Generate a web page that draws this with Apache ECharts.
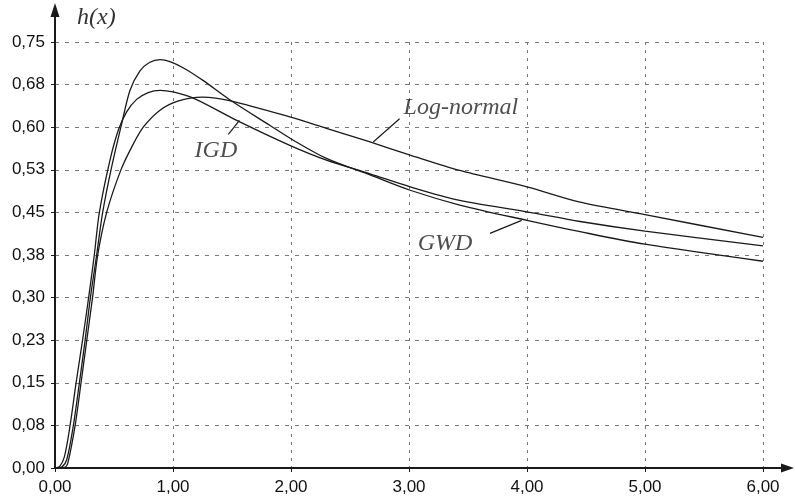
<!DOCTYPE html>
<html>
<head>
<meta charset="utf-8">
<script src="https://cdn.jsdelivr.net/npm/echarts@6/dist/echarts.min.js"></script>
<style>
html, body { margin: 0; padding: 0; background: #fff; }
#chart { width: 795px; height: 496px; }
</style>
</head>
<body>
<div id="chart"></div>
<script>
// tick labels (comma decimals, as printed)
const xTickLabels = ['0,00', '1,00', '2,00', '3,00', '4,00', '5,00', '6,00'];
const yTickLabels = ['0,00', '0,08', '0,15', '0,23', '0,30', '0,38', '0,45', '0,53', '0,60', '0,68', '0,75'];

// hazard curves, [x, h(x)]
const gwd = [
    [0, 0], [0.06, 0.002], [0.1, 0.015], [0.155, 0.074], [0.206, 0.149], [0.254, 0.223],
    [0.3, 0.3], [0.353, 0.375], [0.404, 0.45], [0.48, 0.53], [0.565, 0.606], [0.636, 0.665],
    [0.72, 0.699], [0.8, 0.714], [0.89, 0.719], [0.98, 0.715], [1.1, 0.703], [1.257, 0.682],
    [1.497, 0.646], [1.822, 0.603], [2.02, 0.577], [2.3, 0.545], [2.67, 0.516], [3.01, 0.489],
    [3.43, 0.463], [4.0, 0.436], [4.45, 0.416], [5.0, 0.394], [6.0, 0.364]
];
const igd = [
    [0, 0], [0.04, 0.003], [0.08, 0.02], [0.127, 0.074], [0.178, 0.149], [0.232, 0.223],
    [0.285, 0.3], [0.333, 0.375], [0.376, 0.45], [0.466, 0.542], [0.537, 0.595], [0.607, 0.627],
    [0.692, 0.649], [0.79, 0.661], [0.89, 0.665], [1.0, 0.662], [1.186, 0.65], [1.54, 0.612],
    [1.99, 0.568], [2.3, 0.542], [2.67, 0.518], [3.01, 0.495], [3.43, 0.471], [4.0, 0.451],
    [4.45, 0.434], [5.0, 0.417], [6.0, 0.391]
];
const logNormal = [
    [0, 0], [0.08, 0.001], [0.11, 0.01], [0.17, 0.074], [0.22, 0.149], [0.268, 0.223],
    [0.318, 0.3], [0.362, 0.375], [0.438, 0.45], [0.557, 0.524], [0.65, 0.565], [0.748, 0.6],
    [0.89, 0.63], [1.04, 0.646], [1.25, 0.653], [1.497, 0.646], [1.99, 0.618],
    [2.3, 0.598], [2.67, 0.574], [3.01, 0.551], [3.43, 0.524], [4.0, 0.495], [4.45, 0.468],
    [5.0, 0.446], [6.0, 0.406]
];

// callout texts and their leader lines, in data units
const calloutNames = ['IGD', 'Log-normal', 'GWD'];
const calloutAt = [[1.364, 0.559], [3.44, 0.635], [3.305, 0.395]];
const leaders = [
    [[1.469, 0.5875], [1.563, 0.612]],
    [[2.697, 0.574], [2.92, 0.615]],
    [[3.686, 0.413], [3.955, 0.436]]
];

const ink = '#1a1a1a';
const grid = { left: 55, right: 32, top: 42, bottom: 28 };
const chart = echarts.init(document.getElementById('chart'));

const curve = (name, data) => ({
    name: name,
    type: 'line',
    data: data,
    smooth: 0.3,
    showSymbol: false,
    lineStyle: { color: ink, width: 1.3 },
    z: 5
});

const W = 795, H = 496;
const x0 = grid.left, y0 = H - grid.bottom;

chart.setOption({
    animation: false,
    backgroundColor: '#fff',
    grid: grid,
    xAxis: [
        {
            type: 'value', min: 0, max: 6, interval: 1,
            axisLine: { show: false },
            axisTick: { show: true, length: 4, lineStyle: { color: ink } },
            axisLabel: {
                margin: 11, color: '#111', fontFamily: 'Liberation Sans', fontSize: 17,
                formatter: v => xTickLabels[Math.round(v)]
            },
            splitLine: { show: true, lineStyle: { color: '#777', type: [3, 5], width: 1 } }
        },
        {
            type: 'value', min: 0, max: 6, position: 'top',
            axisLine: { show: true, lineStyle: { color: ink, width: 1.5 } },
            axisTick: { show: false }, axisLabel: { show: false }, splitLine: { show: false }
        }
    ],
    yAxis: [
        {
            type: 'value', min: 0, max: 0.75, interval: 0.075,
            name: 'h(x)',
            nameGap: 12,
            nameTextStyle: {
                fontFamily: 'Liberation Serif', fontStyle: 'italic', fontSize: 24,
                color: '#333', align: 'left', padding: [0, 0, 0, 22]
            },
            axisLine: { show: false },
            axisTick: { show: true, length: 4, lineStyle: { color: ink } },
            axisLabel: {
                margin: 10, color: '#111', fontFamily: 'Liberation Sans', fontSize: 17,
                formatter: v => yTickLabels[Math.round(v / 0.075)]
            },
            splitLine: { show: true, lineStyle: { color: '#777', type: [4, 6], width: 1 } }
        },
        {
            type: 'value', min: 0, max: 0.75, position: 'right',
            axisLine: { show: true, lineStyle: { color: '#222', width: 2 } },
            axisTick: { show: false }, axisLabel: { show: false }, splitLine: { show: false }
        }
    ],
    series: [
        curve('GWD', gwd),
        curve('IGD', igd),
        curve('Log-normal', logNormal),
        ...leaders.map(seg => ({
            type: 'line', data: seg, showSymbol: false,
            lineStyle: { color: ink, width: 1.2 }, z: 6
        })),
        {
            type: 'scatter',
            symbolSize: 0,
            clip: false,
            data: calloutNames.map((n, i) => ({ name: n, value: calloutAt[i] })),
            label: {
                show: true, position: 'inside', formatter: p => p.name,
                fontFamily: 'Liberation Serif', fontStyle: 'italic', fontSize: 24, color: '#222'
            },
            z: 7
        }
    ],
    // axis lines with arrowheads, running past the plot area
    graphic: [
        { type: 'line', shape: { x1: x0, y1: y0, x2: x0, y2: 14 }, style: { stroke: ink, lineWidth: 2 }, z: 100 },
        { type: 'polygon', shape: { points: [[x0, 3], [x0 - 4.5, 17], [x0 + 4.5, 17]] }, style: { fill: ink }, z: 100 },
        { type: 'line', shape: { x1: x0, y1: y0, x2: W - 10, y2: y0 }, style: { stroke: ink, lineWidth: 2 }, z: 100 },
        { type: 'polygon', shape: { points: [[W - 1, y0], [W - 14, y0 - 4.5], [W - 14, y0 + 4.5]] }, style: { fill: ink }, z: 100 }
    ]
});
</script>
</body>
</html>
